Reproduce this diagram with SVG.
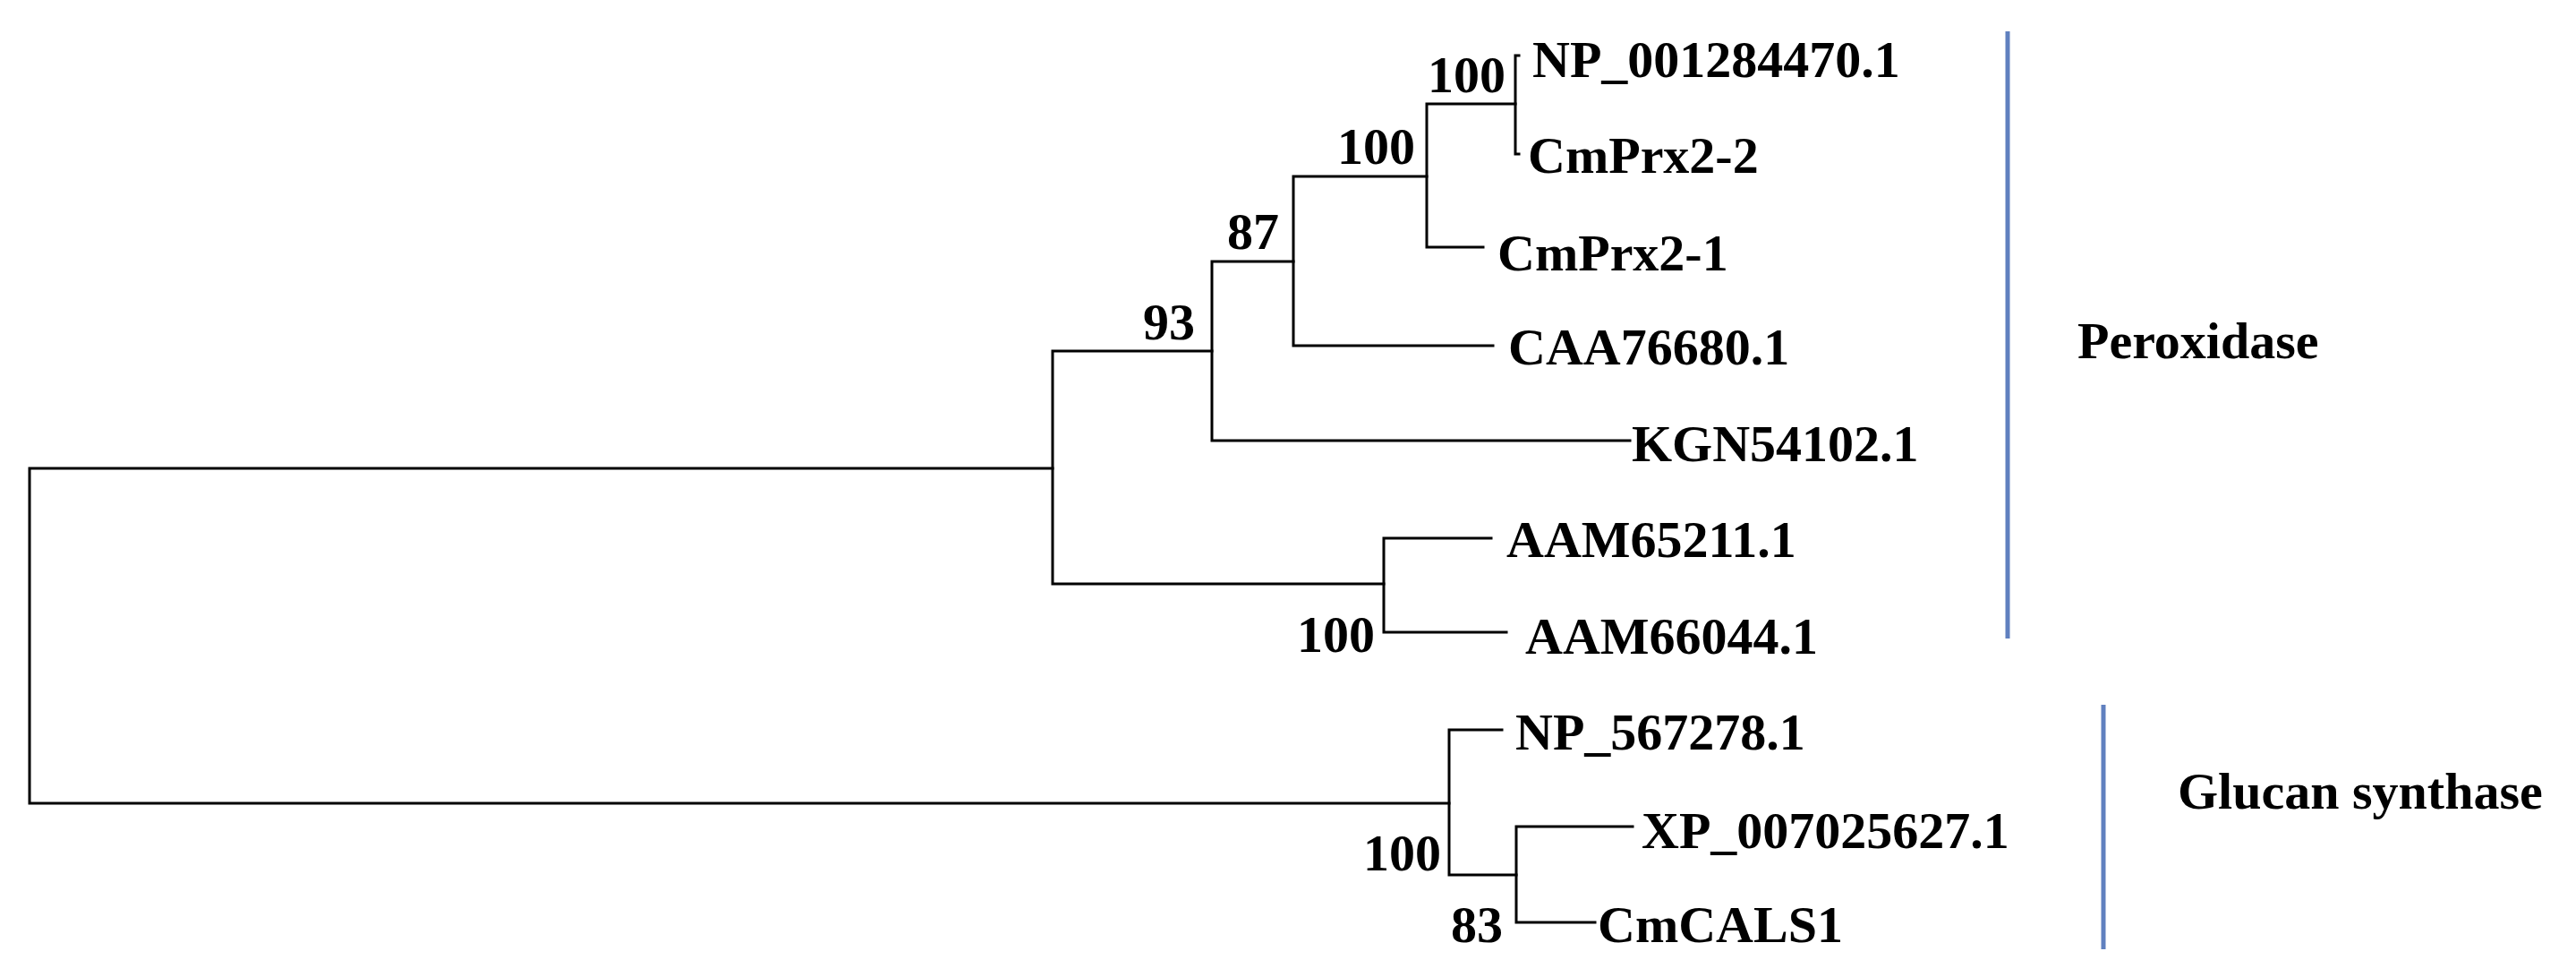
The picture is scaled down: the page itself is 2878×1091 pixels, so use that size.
<svg xmlns="http://www.w3.org/2000/svg" width="2878" height="1091" viewBox="0 0 2878 1091">
<style>
.br{stroke:#000;stroke-width:3;fill:none;stroke-linecap:square}
.bar{stroke:#6080bf;stroke-width:5;fill:none}
text{font-family:"Liberation Serif","Times New Roman",serif;font-weight:bold;font-size:58px;fill:#000}
.bs{text-anchor:end}
</style>
<rect width="2878" height="1091" fill="#fff"/>
<g id="connectors">
<path class="br" d="M33,523V897M33,523H1176M33,897H1619"/>
<path class="br" d="M1176,392V652M1176,392H1354M1176,652H1546"/>
<path class="br" d="M1354,292V492M1354,292H1445M1354,492H1821"/>
<path class="br" d="M1445,197V386M1445,197H1594M1445,386H1668"/>
<path class="br" d="M1594,116V276M1594,116H1693M1594,276H1657"/>
<path class="br" d="M1693,62V172M1693,62H1697M1693,172H1697"/>
<path class="br" d="M1546,601V706M1546,601H1666M1546,706H1683"/>
<path class="br" d="M1619,815V977M1619,815H1678M1619,977H1694"/>
<path class="br" d="M1694,923V1030M1694,923H1824M1694,1030H1782"/>
</g>
<g id="bootstrap">
<text class="bs" x="1682" y="103">100</text>
<text class="bs" x="1581" y="183">100</text>
<text class="bs" x="1429" y="278">87</text>
<text class="bs" x="1335" y="379">93</text>
<text class="bs" x="1536" y="728">100</text>
<text class="bs" x="1610" y="972">100</text>
<text class="bs" x="1679" y="1052">83</text>
</g>
<g id="leaf-NP_001284470"><text x="1712" y="86">NP_001284470.1</text></g>
<g id="leaf-CmPrx2-2"><text x="1707" y="193">CmPrx2-2</text></g>
<g id="leaf-CmPrx2-1"><text x="1673" y="302">CmPrx2-1</text></g>
<g id="leaf-CAA76680"><text x="1685" y="407">CAA76680.1</text></g>
<g id="leaf-KGN54102"><text x="1823" y="515">KGN54102.1</text></g>
<g id="leaf-AAM65211"><text x="1683" y="622">AAM65211.1</text></g>
<g id="leaf-AAM66044"><text x="1704" y="730">AAM66044.1</text></g>
<g id="leaf-NP_567278"><text x="1693" y="837">NP_567278.1</text></g>
<g id="leaf-XP_007025627"><text x="1834" y="947">XP_007025627.1</text></g>
<g id="leaf-CmCALS1"><text x="1785" y="1052">CmCALS1</text></g>
<g id="group-peroxidase">
<line class="bar" x1="2243" y1="35" x2="2243" y2="713"/>
<text x="2321" y="400">Peroxidase</text>
</g>
<g id="group-glucan">
<line class="bar" x1="2350" y1="787" x2="2350" y2="1060"/>
<text x="2433" y="903">Glucan synthase</text>
</g>
</svg>
